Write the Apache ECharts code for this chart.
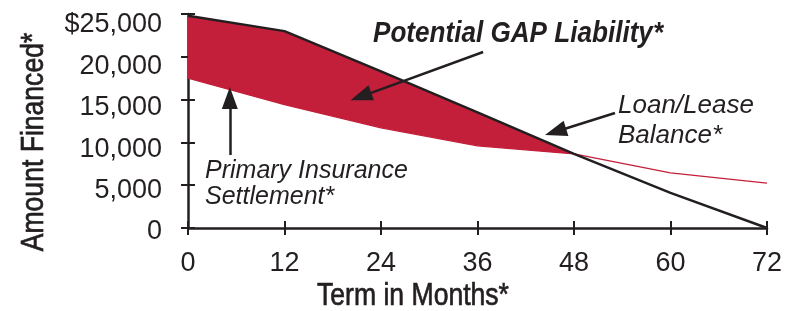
<!DOCTYPE html>
<html>
<head>
<meta charset="utf-8">
<script src="https://cdn.jsdelivr.net/npm/echarts@6/dist/echarts.min.js"></script>
<style>
  html, body { margin: 0; padding: 0; background: #fff; }
  #chart { width: 786px; height: 311px; }
</style>
</head>
<body>
<div id="chart"></div>
<script>
var months = [0, 12, 24, 36, 48, 60, 72];
var loanBalance = [24800, 23000, 18300, 13500, 8650, 4100, 0];
var insuranceSettlement = [17500, 14400, 11700, 9600, 8650, 6450, 5250];
var yTicks = [0, 5000, 10000, 15000, 20000, 25000];
var yTickLabels = ['0', '5,000', '10,000', '15,000', '20,000', '$25,000'];

var ink = '#231f20';
var red = '#c41f3a';
var font = 'Liberation Sans, Arial, sans-serif';

function pairs(vals) {
  return months.map(function (m, i) { return [m, vals[i]]; });
}

// labels on the left sit a little lower than their ticks, more so at the top
var labelRich = {};
yTicks.forEach(function (v, i) {
  labelRich['l' + i] = { fontSize: 27, color: ink, fontFamily: font, padding: [2 * (4 + 1.4 * i), 0, 0, 0] };
});

var chart = echarts.init(document.getElementById('chart'));

var baseX = { type: 'value', min: 0, max: 72, interval: 12, splitLine: { show: false } };
var baseY = { type: 'value', min: 0, max: 25000, interval: 5000, splitLine: { show: false } };

chart.setOption({
  animation: false,
  grid: { left: 188, right: 19, top: 14, bottom: 83 },
  xAxis: [
    Object.assign({}, baseX, {
      position: 'bottom',
      axisLine: { lineStyle: { color: ink, width: 2.5 } },
      axisTick: { length: 7, lineStyle: { color: ink, width: 2 } },
      axisLabel: { fontSize: 27, color: ink, fontFamily: font, margin: 22 }
    }),
    Object.assign({}, baseX, {
      position: 'bottom',
      axisLine: { show: false },
      axisTick: { inside: true, length: 7, lineStyle: { color: ink, width: 2 } },
      axisLabel: { show: false }
    })
  ],
  yAxis: [
    Object.assign({}, baseY, {
      position: 'left',
      axisLine: { lineStyle: { color: ink, width: 2.5 } },
      axisTick: { length: 7, lineStyle: { color: ink, width: 2 } },
      axisLabel: {
        margin: 26,
        formatter: function (v) {
          var i = yTicks.indexOf(v);
          return '{l' + i + '|' + yTickLabels[i] + '}';
        },
        rich: labelRich
      }
    }),
    Object.assign({}, baseY, {
      position: 'left',
      axisLine: { show: false },
      axisTick: { inside: true, length: 7, lineStyle: { color: ink, width: 2 } },
      axisLabel: { show: false }
    })
  ],
  series: [
    {
      // red band between the two curves while the balance is higher
      name: 'Potential GAP Liability', type: 'custom', silent: true,
      data: [[0, 0]],
      renderItem: function (params, api) {
        var top = [];
        var bottom = [];
        months.forEach(function (m, i) {
          if (loanBalance[i] >= insuranceSettlement[i]) {
            top.push(api.coord([m, loanBalance[i]]));
            bottom.unshift(api.coord([m, insuranceSettlement[i]]));
          }
        });
        return {
          type: 'polygon',
          shape: { points: top.concat(bottom) },
          style: { fill: red }
        };
      }
    },
    {
      name: 'Primary Insurance Settlement', type: 'line', data: pairs(insuranceSettlement),
      showSymbol: false, silent: true,
      lineStyle: { color: red, width: 1.3 }
    },
    {
      name: 'Loan/Lease Balance', type: 'line', data: pairs(loanBalance),
      showSymbol: false, silent: true,
      lineStyle: { color: ink, width: 2.5 },
      markLine: {
        silent: true,
        symbol: ['none', 'triangle'],
        symbolSize: [16, 22],
        label: { show: false },
        lineStyle: { color: ink, width: 2.5, type: 'solid' },
        itemStyle: { color: ink },
        data: [
          [{ coord: [36.7, 20560] }, { coord: [21.5, 15350] }],
          [{ coord: [53.1, 13430] }, { coord: [45.7, 11250] }],
          [{ coord: [5.2, 8530] }, { coord: [5.2, 15180] }]
        ]
      }
    }
  ],
  graphic: [
    {
      type: 'text', x: 373, y: 34, scaleX: 0.87,
      style: {
        text: 'Potential GAP Liability*', fill: ink,
        font: 'italic bold 30px ' + font, verticalAlign: 'middle'
      }
    },
    {
      type: 'text', x: 618, y: 121,
      style: {
        text: 'Loan/Lease\nBalance*', fill: ink, lineHeight: 30,
        font: 'italic 26px ' + font, verticalAlign: 'middle'
      }
    },
    {
      type: 'text', x: 205, y: 184,
      style: {
        text: 'Primary Insurance\nSettlement*', fill: ink, lineHeight: 26,
        font: 'italic 25px ' + font, verticalAlign: 'middle'
      }
    },
    {
      type: 'text', x: 413, y: 296, scaleX: 0.83,
      style: {
        text: 'Term in Months*', fill: ink, stroke: ink, lineWidth: 0.7,
        font: '32px ' + font, align: 'center', verticalAlign: 'middle'
      }
    },
    {
      type: 'text', x: 34, y: 142, rotation: Math.PI / 2, scaleX: 0.83,
      style: {
        text: 'Amount Financed*', fill: ink, stroke: ink, lineWidth: 0.7,
        font: '32px ' + font, align: 'center', verticalAlign: 'middle'
      }
    }
  ]
});
</script>
</body>
</html>
